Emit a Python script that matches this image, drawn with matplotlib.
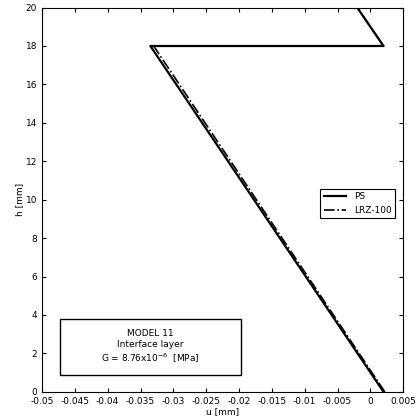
import matplotlib
matplotlib.use("Agg")
import matplotlib.pyplot as plt
from matplotlib.patches import Rectangle

ps_u = [0.002, -0.0335, 0.002, -0.002]
ps_h = [0, 18, 18, 20]
lrz_u = [0.0022, -0.033, 0.002, -0.002]
lrz_h = [0, 18, 18, 20]

fig = plt.figure(figsize=(4.2, 4.2), dpi=100)
ax = fig.add_axes([0.1, 0.067, 0.86, 0.915])
ax.plot(ps_u, ps_h, 'k-', lw=1.6, label='PS')
ax.plot(lrz_u, lrz_h, 'k-.', lw=1.2, label='LRZ-100')
ax.set_xlim(-0.05, 0.005)
ax.set_ylim(0, 20)
xt = [-0.05, -0.045, -0.04, -0.035, -0.03, -0.025, -0.02, -0.015, -0.01, -0.005, 0, 0.005]
ax.set_xticks(xt)
ax.set_xticklabels([('%g' % v) for v in xt], fontsize=6.5)
ax.set_yticks(range(0, 21, 2))
ax.tick_params(labelsize=6.5, direction='in', top=True, right=True, length=3)
ax.set_xlabel('u [mm]', fontsize=6.5, labelpad=1)
ax.set_ylabel('h [mm]', fontsize=6.5, labelpad=1)
leg = ax.legend(loc='center right', bbox_to_anchor=(0.99, 0.49), fontsize=6.5, fancybox=False,
                edgecolor='k', framealpha=1, handlelength=2.5)
leg.get_frame().set_linewidth(0.8)
ax.add_patch(Rectangle((0.05, 0.044), 0.5, 0.146, transform=ax.transAxes, fc='white', ec='k', lw=1.0, zorder=5))
ax.text(0.3, 0.117, 'MODEL 11\nInterface layer\nG = 8.76x10$^{-6}$  [MPa]', transform=ax.transAxes,
        ha='center', va='center', fontsize=6.5, linespacing=1.3, zorder=6)
fig.savefig('out.png', dpi=100)
